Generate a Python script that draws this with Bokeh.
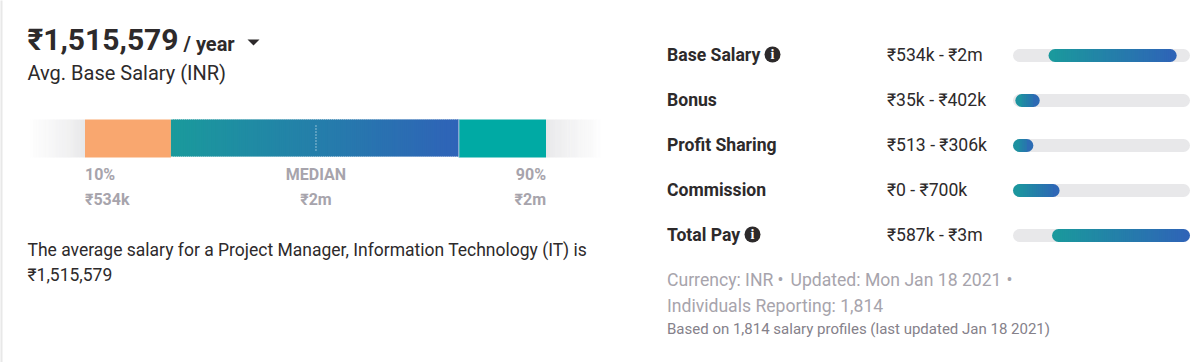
from bokeh.plotting import figure
from bokeh.models import Range1d
from bokeh.embed import file_html
from bokeh.resources import INLINE
from bokeh.core.properties import value
import numpy as np

# ---- data ----
percentile_labels = ["10%", "MEDIAN", "90%"]
percentile_texts = ["₹534k", "₹2m", "₹2m"]
p10 = 534000
p90 = 2460000
median = 1499000
band_lo = 893000     # start of the central band
band_hi = 2096000    # end of the central band
full_lo = 297000     # where the side fades begin
full_hi = 2700000    # where the side fades end

pay_names = ["Base Salary", "Bonus", "Profit Sharing", "Commission", "Total Pay"]
pay_ranges = ["₹534k - ₹2m", "₹35k - ₹402k", "₹513 - ₹306k", "₹0 - ₹700k", "₹587k - ₹3m"]
pay_lo = [534000, 35000, 513, 0, 587000]
pay_hi = [2460000, 402000, 306000, 700000, 2660000]
pay_max = 2660000

# ---- style ----
FONT = value("Roboto")
DARK = "#2d2a2b"
GREY = "#a7a4ac"
TRACK = "#e8e8ea"
GRAD_A = np.array([0x1a, 0x9a, 0x9c])
GRAD_B = np.array([0x2f, 0x63, 0xb8])
ORANGE = "#f9a76f"
TEAL = "#00aaa4"

W, H = 1204, 362
OFF = 1  # the frame sits one pixel in from the window corner
p = figure(width=W, height=H, output_backend="svg", toolbar_location=None,
           x_range=Range1d(OFF, W + OFF), y_range=Range1d(H + OFF, OFF),
           x_axis_type=None, y_axis_type=None, min_border=0, outline_line_color=None,
           background_fill_color="white", border_fill_color="white")
p.grid.visible = False

# left edge rule of the card
p.quad(left=[0], right=[3], top=[0], bottom=[H + 2], fill_color="#e8e8e8", line_color=None)


def scale_range(v0, px0, v1, px1):
    """value range whose scale puts v0 at pixel px0 and v1 at pixel px1"""
    k = (v1 - v0) / (px1 - px0)
    return Range1d(v0 + (OFF - px0) * k, v0 + (W + OFF - px0) * k), k


p.extra_x_ranges["main"], main_k = scale_range(p10, 85.5, p90, 546.5)
p.extra_x_ranges["track"], track_k = scale_range(0, 1013.5, pay_max, 1190.5)


def mix(t):
    c = GRAD_A + (GRAD_B - GRAD_A) * t
    return "#%02x%02x%02x" % tuple(int(round(v)) for v in c)


# ---- percentile bar ----
TOP, BOT = 120, 158
for a, b, side in [(full_lo, p10, 1), (p90, full_hi, -1)]:
    n = int((b - a) / main_k)
    edges = np.linspace(a, b, n + 1)
    alphas = np.linspace(0, 1, n) if side == 1 else np.linspace(1, 0, n)
    p.quad(left=edges[:-1], right=edges[1:], top=TOP, bottom=BOT,
           fill_color=TRACK, fill_alpha=alphas, line_color=None, x_range_name="main")

p.quad(left=[p10], right=[band_lo], top=TOP, bottom=BOT, fill_color=ORANGE, line_color=None, x_range_name="main")
p.quad(left=[band_hi], right=[p90], top=TOP, bottom=BOT, fill_color=TEAL, line_color=None, x_range_name="main")
n = int((band_hi - band_lo) / main_k / 2)
edges = np.linspace(band_lo, band_hi, n + 1)
p.quad(left=edges[:-1], right=np.r_[edges[1:-1] + main_k, band_hi], top=TOP, bottom=BOT - 1,
       fill_color=[mix(i / (n - 1)) for i in range(n)], line_color=None, x_range_name="main")
p.segment(x0=[band_hi], x1=[band_hi], y0=[TOP], y1=[BOT], line_color="#a9c6e0", line_width=1, x_range_name="main")
p.segment(x0=[median], x1=[median], y0=[126], y1=[151], line_color="white", line_width=1,
          line_dash="1 2", x_range_name="main")

p.text(x=[p10, median, p90], y=[175] * 3, text=percentile_labels, text_font=FONT, text_font_size="16px",
       text_font_style="bold", text_color=GREY, text_baseline="middle",
       text_align=["left", "center", "right"], x_range_name="main")
p.text(x=[p10, median, p90], y=[200] * 3, text=percentile_texts, text_font=FONT, text_font_size="16px",
       text_font_style="bold", text_color=GREY, text_baseline="middle",
       text_align=["left", "center", "right"], x_range_name="main")

# ---- headline ----
p.text(x=[28], y=[40], text=["₹1,515,579"], text_font=FONT, text_font_size="30px", text_font_style="bold",
       text_color=DARK, text_baseline="middle")
p.text(x=[184], y=[44], text=["/ year"], text_font=FONT, text_font_size="20px", text_font_style="bold",
       text_color=DARK, text_baseline="middle")
p.patch(x=[248, 260, 254], y=[40, 40, 46], fill_color=DARK, line_color=None)
p.text(x=[28], y=[73], text=["Avg. Base Salary (INR)"], text_font=FONT, text_font_size="20px",
       text_color=DARK, text_baseline="middle")
p.text(x=[28, 28], y=[250, 275],
       text=["The average salary for a Project Manager, Information Technology (IT) is", "₹1,515,579"],
       text_font=FONT, text_font_size="17.5px", text_color=DARK, text_baseline="middle")

# ---- pay rows ----
ROWS = [55, 100, 145, 190, 235]
BAR_ROWS = [56, 101, 146, 191, 236]
p.text(x=[667.5] * 5, y=ROWS, text=pay_names, text_font=FONT, text_font_size="17.6px", text_font_style="bold",
       text_color=DARK, text_baseline="middle")
p.text(x=[887.5] * 5, y=ROWS, text=pay_ranges, text_font=FONT, text_font_size="17.6px",
       text_color=DARK, text_baseline="middle")

# info icons
p.scatter(x=[773, 753], y=[55, 235], marker="circle", size=16, fill_color=DARK, line_color=None)
p.text(x=[773, 753], y=[55, 235], text=["i", "i"], text_font=value("Liberation Serif"), text_font_size="14px",
       text_font_style="bold", text_color="white", text_baseline="middle", text_align="center")

BAR_PX = 13
inset = BAR_PX / 2 * track_k
p.segment(x0=[inset] * 5, x1=[pay_max - inset] * 5, y0=BAR_ROWS, y1=BAR_ROWS, line_color=TRACK, line_width=BAR_PX,
          line_cap="round", x_range_name="track")
for lo, hi, y in zip(pay_lo, pay_hi, BAR_ROWS):
    a, b = lo + inset, hi - inset
    span = hi - lo
    m = max(int((b - a) / track_k / 2), 2)
    ed = np.linspace(a, b, m + 1)
    mids = (ed[:-1] + ed[1:]) / 2
    p.segment(x0=[a, b], x1=[a, b], y0=[y, y], y1=[y, y],
              line_color=[mix(0.5 * inset / span), mix(1 - 0.5 * inset / span)], line_width=BAR_PX,
              line_cap="round", x_range_name="track")
    p.segment(x0=ed[:-1], x1=np.r_[ed[1:-1] + track_k, b], y0=[y] * m, y1=[y] * m,
              line_color=[mix((v - lo) / span) for v in mids], line_width=BAR_PX, x_range_name="track")

# ---- footer ----
p.text(x=[667.5, 791, 667.5], y=[280, 280, 306],
       text=["Currency: INR", "Updated: Mon Jan 18 2021", "Individuals Reporting: 1,814"],
       text_font=FONT, text_font_size="17.6px", text_color=GREY, text_baseline="middle")
p.text(x=[781, 1010], y=[280, 280], text=["•", "•"], text_font=FONT, text_font_size="17.6px",
       text_color=GREY, text_baseline="middle", text_align="center")
p.text(x=[667.5], y=[329], text=["Based on 1,814 salary profiles (last updated Jan 18 2021)"], text_font=FONT,
       text_font_size="15px", text_color="#85818a", text_baseline="middle")

open("out.html", "w").write(file_html(p, INLINE))
